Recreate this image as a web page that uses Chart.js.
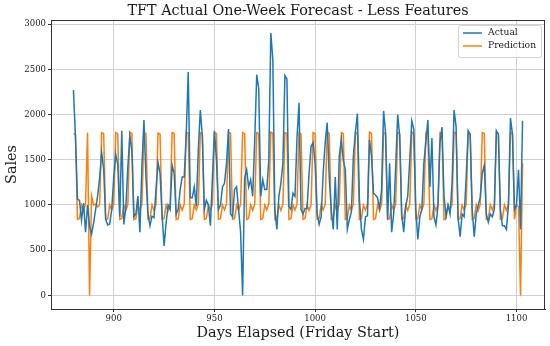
<!DOCTYPE html>
<html>
<head>
<meta charset="utf-8">
<script src="https://cdn.jsdelivr.net/npm/chart.js@4.4.1/dist/chart.umd.min.js"></script>
<style>
  html, body { margin: 0; padding: 0; background: #fff; }
</style>
</head>
<body>
<canvas id="myChart" width="550" height="346"></canvas>
<script>
// days run 880, 881, ... one value per day
const firstDay = 880;

const actual = [
    2270, 1750, 1066, 1050, 830, 1020, 700,
    1000, 760, 680, 800, 950, 1100, 1300,
    1580, 1400, 840, 780, 790, 950, 1300,
    1560, 1450, 870, 1820, 785, 970, 1420,
    1760, 1600, 870, 900, 1100, 700, 1430,
    1940, 1310, 900, 770, 876, 860, 1170,
    1470, 1350, 900, 548, 800, 1000, 950,
    1440, 1350, 900, 950, 1170, 1310, 1310,
    1780, 2470, 1080, 1080, 1200, 985, 1610,
    2050, 1760, 950, 1050, 1000, 770, 1300,
    1820, 1500, 950, 1000, 1200, 1240, 1460,
    1840, 900, 870, 1170, 1200, 950, 700,
    0, 1300, 1390, 1200, 1280, 1096, 1710,
    2440, 2290, 1096, 1280, 1170, 1170, 1500,
    2900, 2610, 950, 730, 1096, 1240, 1460,
    2430, 2390, 985, 950, 1130, 1096, 1740,
    2130, 950, 900, 960, 960, 1350, 1650,
    1690, 1460, 900, 785, 870, 1350, 1690,
    1910, 1310, 950, 730, 1310, 730, 1540,
    1720, 1490, 1390, 730, 840, 920, 1540,
    1800, 2010, 1060, 730, 620, 870, 880,
    1720, 1540, 1130, 1110, 1080, 960, 1170,
    2040, 1790, 840, 1460, 700, 900, 1420,
    2000, 1760, 900, 700, 985, 1100, 1500,
    1930, 1840, 950, 620, 870, 950, 1460,
    1700, 1940, 1200, 1740, 870, 780, 985,
    1690, 1860, 1096, 876, 1000, 900, 1240,
    2050, 1870, 850, 650, 900, 870, 1300,
    1820, 1780, 950, 650, 900, 1000, 1080,
    1350, 1440, 900, 810, 900, 870, 950,
    1820, 1780, 950, 770, 770, 730, 1000,
    1960, 1780, 950, 1000, 1390, 730, 1930
];

const prediction = [
    1790, 1780, 840, 850, 1000, 940, 1010,
    1800, 0, 1100, 1000, 1010, 980, 1000,
    1800, 1790, 840, 845, 1000, 945, 1010,
    1800, 1785, 840, 850, 1000, 940, 1005,
    1805, 1790, 838, 848, 1000, 945, 1010,
    1800, 1790, 840, 850, 1002, 940, 1010,
    1795, 1785, 842, 850, 1000, 938, 1008,
    1800, 1790, 840, 846, 1000, 942, 1010,
    1805, 1790, 840, 850, 1000, 945, 1010,
    1800, 1788, 840, 850, 998, 940, 1010,
    1800, 1790, 842, 848, 1000, 945, 1012,
    1805, 1790, 840, 850, 1000, 940, 1010,
    1800, 1785, 840, 852, 1000, 942, 1008,
    1800, 1790, 840, 850, 1000, 945, 1010,
    1805, 1790, 838, 848, 1002, 940, 1010,
    1800, 1790, 840, 850, 1000, 944, 1010,
    1798, 1786, 840, 850, 1000, 940, 1008,
    1800, 1790, 842, 850, 1000, 945, 1010,
    1805, 1790, 840, 848, 1000, 940, 1010,
    1800, 1788, 840, 850, 998, 942, 1012,
    1800, 1790, 840, 852, 1000, 945, 1010,
    1805, 1790, 838, 850, 1000, 940, 1010,
    1800, 1785, 840, 848, 1002, 944, 1008,
    1800, 1790, 842, 850, 1000, 940, 1010,
    1805, 1790, 840, 850, 1000, 945, 1010,
    1800, 1788, 840, 848, 1000, 940, 1012,
    1800, 1790, 840, 852, 998, 942, 1010,
    1805, 1790, 838, 850, 1000, 945, 1010,
    1800, 1786, 840, 850, 1002, 940, 1008,
    1800, 1790, 842, 848, 1000, 944, 1010,
    1805, 1790, 840, 850, 1000, 940, 1010,
    1800, 1790, 840, 1000, 980, 0, 1460
];

const xTicks = [900, 950, 1000, 1050, 1100];
const yTicks = [0, 500, 1000, 1500, 2000, 2500, 3000];
const seriesNames = ["Actual", "Prediction"];
const seriesColors = ["#1f77b4", "#ff7f0e"];
const chartTitle = "TFT Actual One-Week Forecast - Less Features";

const serif = "'DejaVu Serif', 'Liberation Serif', serif";
const textColor = "#1a1a1a";

const toPoints = (vals) => vals.map((v, i) => ({ x: firstDay + i, y: v }));

// matplotlib-like box around the axes
const frame = {
    id: "frame",
    afterDatasetsDraw(chart) {
        const { ctx, chartArea } = chart;
        ctx.save();
        ctx.strokeStyle = "#333";
        ctx.lineWidth = 1;
        ctx.strokeRect(
            Math.round(chartArea.left) + 0.5,
            Math.round(chartArea.top) + 0.5,
            Math.round(chartArea.right - chartArea.left) - 1,
            Math.round(chartArea.bottom - chartArea.top)
        );
        ctx.restore();
    },
};

// title centred over the axes, not the canvas
const axesTitle = {
    id: "axesTitle",
    afterDraw(chart) {
        const { ctx, chartArea } = chart;
        ctx.save();
        ctx.font = "14.4px " + serif;
        ctx.fillStyle = textColor;
        ctx.textAlign = "center";
        ctx.textBaseline = "middle";
        ctx.fillText(chartTitle, (chartArea.left + chartArea.right) / 2, 11);
        ctx.restore();
    },
};

// legend drawn inside the plot, upper right
const innerLegend = {
    id: "innerLegend",
    afterDraw(chart) {
        const { ctx, chartArea } = chart;
        const w = 83, h = 32;
        const x = chartArea.right - w - 4;
        const y = chartArea.top + 5;
        ctx.save();
        ctx.beginPath();
        ctx.roundRect(x + 0.5, y + 0.5, w, h, 2);
        ctx.fillStyle = "rgba(255,255,255,0.85)";
        ctx.fill();
        ctx.strokeStyle = "#d4d4d4";
        ctx.lineWidth = 1;
        ctx.stroke();
        ctx.font = "9.2px " + serif;
        ctx.textBaseline = "middle";
        ctx.fillStyle = textColor;
        chart.data.datasets.forEach((ds, i) => {
            const ry = y + 8 + i * 13;
            ctx.beginPath();
            ctx.moveTo(x + 5, ry);
            ctx.lineTo(x + 24, ry);
            ctx.strokeStyle = ds.borderColor;
            ctx.lineWidth = 1.5;
            ctx.stroke();
            ctx.fillText(ds.label, x + 30, ry);
        });
        ctx.restore();
    },
};

const ctx = document.getElementById("myChart");
new Chart(ctx, {
    type: "line",
    data: {
        datasets: [
            {
                label: seriesNames[0],
                data: toPoints(actual),
                borderColor: seriesColors[0],
                backgroundColor: seriesColors[0],
            },
            {
                label: seriesNames[1],
                data: toPoints(prediction),
                borderColor: seriesColors[1],
                backgroundColor: seriesColors[1],
            },
        ],
    },
    options: {
        responsive: false,
        animation: false,
        devicePixelRatio: 1,
        layout: { padding: { left: 0, right: 5, top: 20, bottom: 0 } },
        elements: {
            point: { radius: 0 },
            line: { tension: 0, borderWidth: 1.5, fill: false },
        },
        plugins: {
            legend: { display: false },
            tooltip: { enabled: false },
            title: { display: false },
        },
        scales: {
            x: {
                type: "linear",
                min: 868.85,
                max: 1114.15,
                afterBuildTicks: (s) => {
                    s.ticks = xTicks.map((v) => ({ value: v }));
                },
                afterFit: (s) => {
                    s.height = 37;
                },
                ticks: {
                    font: { family: serif, size: 8.5 },
                    color: textColor,
                    padding: 2,
                    maxRotation: 0,
                    callback: (v) => String(v),
                },
                grid: { color: "#d0d0d0", tickColor: "#333", tickLength: 3 },
                border: { color: "#333" },
                title: {
                    display: true,
                    text: "Days Elapsed (Friday Start)",
                    font: { family: serif, size: 14.4 },
                    color: textColor,
                    padding: { top: 0, bottom: 4 },
                },
            },
            y: {
                min: -150,
                max: 3045,
                afterBuildTicks: (s) => {
                    s.ticks = yTicks.map((v) => ({ value: v }));
                },
                afterFit: (s) => {
                    s.width = 51;
                },
                ticks: {
                    font: { family: serif, size: 8.5 },
                    color: textColor,
                    padding: 2,
                    callback: (v) => String(v),
                },
                grid: { color: "#d0d0d0", tickColor: "#333", tickLength: 3 },
                border: { color: "#333" },
                title: {
                    display: true,
                    text: "Sales",
                    font: { family: serif, size: 14.4 },
                    color: textColor,
                    padding: { top: 4, bottom: 0 },
                },
            },
        },
    },
    plugins: [frame, axesTitle, innerLegend],
});
</script>
</body>
</html>
